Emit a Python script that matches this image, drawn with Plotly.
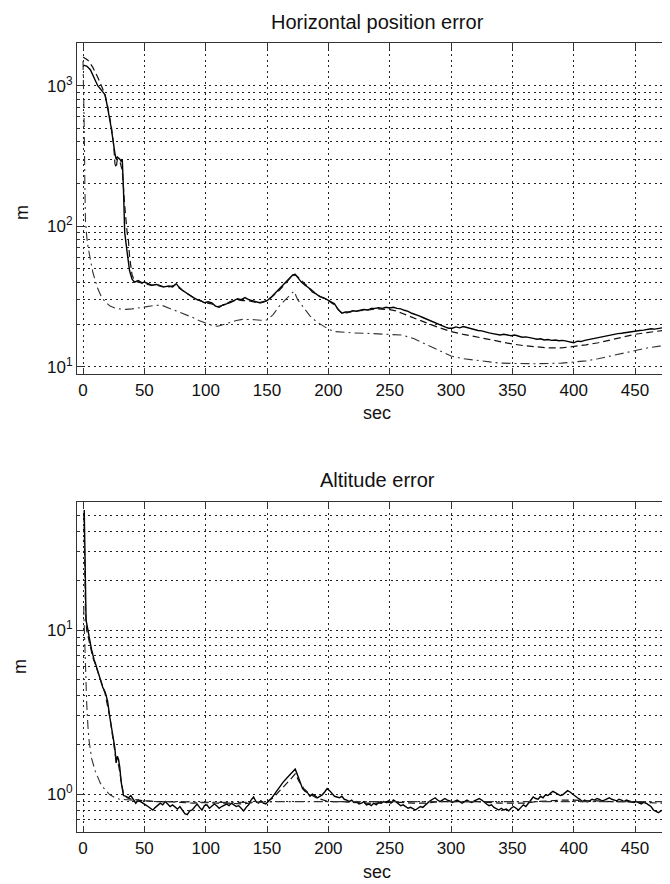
import plotly.graph_objects as go

# ---------------- data ----------------
# Horizontal position error (m) vs time (sec)
h_solid = [(0,1400),(3,1380),(6,1300),(9,1150),(12,1000),(15,930),(17,890),(18,860),(20,700),
    (23,500),(26,330),(27,300),(28,310),(30,300),(31,290),(32,300),(33,180),(34,90),(36,65),
    (37,55),(38,48),(40,42),(42,40),(45,41),(48,39.5),(50,40),(53,39),(56,38),(60,38.5),
    (63,37.5),(66,37),(70,37.5),(73,37),(76,39),(78,37),(81,35),(84,33.5),(87,32),(90,31),
    (93,30),(96,29.5),(99,28.5),(102,29),(105,28.5),(108,27),(111,26.5),(114,27.5),(117,28),
    (120,29),(123,29.5),(126,30.5),(129,30),(132,31),(135,30),(138,29.5),(141,29),(144,28.5),
    (147,29),(150,29.5),(153,31),(156,33),(159,35),(162,37.5),(165,40),(168,42.5),(171,45),
    (173,45.5),(175,43),(178,40),(181,38),(184,36.5),(187,34),(190,33),(193,31.5),(196,31),
    (199,30),(202,29),(205,28),(208,25.5),(211,24),(214,24.5),(217,24.5),(220,25),(223,24.8),
    (226,25.2),(229,25.5),(232,25.3),(235,26),(238,26),(241,26.3),(244,26),(247,26.5),
    (250,26.2),(253,26.5),(256,26),(259,25.8),(262,25.2),(265,24.8),(268,24),(271,23.6),
    (274,23),(277,22.4),(280,21.8),(283,21.2),(286,20.6),(289,20),(292,19.6),(295,19.2),
    (298,18.8),(301,18.8),(304,19.2),(307,18.9),(310,19.3),(313,19),(316,18.6),(319,18.4),
    (322,18.1),(325,18),(328,17.6),(331,17.4),(334,17.2),(337,17),(340,16.8),(343,17),
    (346,16.7),(349,16.6),(352,16.8),(355,16.4),(358,16.2),(361,16.3),(364,16),(367,15.9),
    (370,15.7),(373,15.8),(376,15.5),(379,15.6),(382,15.4),(385,15.5),(388,15.3),(391,15.4),
    (394,15.2),(397,15),(400,14.8),(403,15.2),(406,15.1),(409,15.4),(412,15.6),(415,15.8),
    (418,16.1),(421,16.3),(424,16.5),(427,16.6),(430,16.8),(433,17),(436,17.2),(439,17.3),
    (442,17.5),(445,17.6),(448,17.7),(451,17.9),(454,18.1),(457,18.2),(460,18.4),(463,18.6),
    (466,18.5),(469,18.8),(472,18.9),(475,19.1),(478,19),(481,19.1)]

h_dashed = [(0,1600),(4,1520),(8,1350),(12,1150),(16,950),(18,850),(20,720),(23,520),(25,380),
    (26,280),(27,260),(28,300),(30,290),(32,250),(34,140),(35,110),(36,90),(37,80),(38,60),
    (40,45),(42,41),(45,40),(50,39),(55,38),(60,38),(65,37),(70,37),(75,38),(80,35.5),(85,33),
    (90,31),(95,29.5),(100,28.5),(105,28),(110,26.8),(115,27.5),(120,28.5),(125,30),(130,29.5),
    (135,29.5),(140,28.8),(145,28.5),(150,29.5),(155,32),(160,35),(165,39),(170,44),(173,45),
    (176,43),(180,39.5),(185,36),(190,33),(195,31),(200,29.5),(205,27.5),(210,24.5),(215,24.2),
    (220,24.8),(230,25.2),(240,25.8),(250,25.5),(255,25),(260,24),(265,23),(270,22.2),
    (280,20.5),(290,19),(300,17.8),(310,17),(320,16.3),(330,15.6),(340,15),(350,14.5),
    (360,14.1),(370,13.8),(380,13.6),(390,13.6),(400,13.9),(410,14.3),(420,14.8),(430,15.5),
    (440,16.3),(450,17),(460,17.5),(470,18),(481,18.5)]

h_dashdot = [(0,1500),(0.5,1000),(1,500),(1.5,200),(2,110),(3,85),(4,72),(6,58),(8,47),(10,41),
    (12,36),(15,31.5),(18,29),(22,27),(26,26.2),(30,25.8),(35,25.6),(40,25.8),(45,26.2),
    (50,26.7),(55,27.3),(60,27.4),(65,27.2),(70,26.2),(75,25.2),(80,24.2),(85,23.4),(90,22.3),
    (95,21.2),(100,20.4),(105,19.7),(110,19.4),(115,20),(120,20.8),(125,21.3),(130,21.7),
    (135,21.7),(140,21.6),(145,21.4),(150,21.5),(155,23.5),(160,27),(165,30),(170,33.5),
    (172,34.5),(175,30),(180,26),(185,23),(190,21),(195,19.8),(200,18.5),(205,17.8),(210,17.6),
    (220,17.4),(230,17.3),(240,17.2),(250,17.1),(260,16.8),(270,15.8),(280,14.4),(290,13),
    (300,11.9),(310,11.4),(320,11.1),(330,10.8),(340,10.6),(350,10.55),(360,10.5),(370,10.5),
    (380,10.55),(390,10.6),(400,10.8),(410,11),(420,11.4),(430,11.9),(440,12.5),(450,13.1),
    (460,13.6),(470,14),(481,14.4)]

# Altitude error (m) vs time (sec)
a_solid = [(1,54),(1.5,30),(2,14),(2.5,11.5),(3.5,10.5),(5,8.8),(6,8.3),(7,7.6),(8,6.9),
    (9,6.6),(10,6.3),(12,5.6),(14,5.1),(16,4.5),(18,4.2),(20,3.7),(22,2.9),(24,2.35),(26,1.9),
    (27,1.55),(28,1.7),(29,1.62),(30,1.45),(31,1.2),(32,1.05),(33,0.98),(35,0.97),(37,0.95),
    (39,0.98),(41,0.93),(43,0.88),(45,0.92),(47,0.9),(49,0.89),(51,0.86),(53,0.84),(55,0.82),
    (57,0.8),(59,0.83),(61,0.86),(63,0.88),(65,0.86),(67,0.9),(69,0.87),(71,0.84),(73,0.86),
    (75,0.83),(77,0.81),(79,0.84),(81,0.8),(83,0.76),(85,0.75),(87,0.79),(89,0.8),(91,0.84),
    (93,0.87),(95,0.83),(97,0.8),(99,0.85),(101,0.86),(103,0.82),(105,0.84),(107,0.87),
    (109,0.85),(111,0.82),(113,0.84),(115,0.86),(117,0.87),(119,0.85),(121,0.88),(123,0.86),
    (125,0.84),(127,0.85),(129,0.82),(131,0.79),(133,0.83),(135,0.86),(137,0.92),(139,0.96),
    (141,0.9),(143,0.88),(145,0.91),(147,0.88),(149,0.87),(151,0.9),(154,0.95),(157,1.02),
    (160,1.1),(163,1.18),(166,1.25),(169,1.32),(171,1.37),(173,1.42),(175,1.3),(177,1.2),
    (179,1.08),(181,1.04),(183,1.02),(185,0.97),(187,1.0),(189,0.98),(191,0.95),(193,0.97),
    (195,0.99),(197,1.03),(199,1.08),(201,1.05),(203,1.0),(205,0.97),(207,0.96),(209,0.95),
    (211,0.97),(213,0.93),(215,0.92),(217,0.9),(219,0.92),(221,0.89),(223,0.9),(225,0.87),
    (227,0.88),(229,0.9),(231,0.86),(233,0.87),(235,0.85),(237,0.88),(239,0.86),(241,0.89),
    (243,0.88),(245,0.9),(247,0.89),(249,0.91),(251,0.88),(253,0.92),(255,0.9),(257,0.88),
    (259,0.85),(261,0.86),(263,0.84),(265,0.82),(267,0.83),(269,0.81),(271,0.8),(273,0.82),
    (275,0.84),(277,0.83),(279,0.86),(281,0.88),(283,0.91),(285,0.93),(287,0.95),(289,0.92),
    (291,0.9),(293,0.92),(295,0.94),(297,0.92),(299,0.91),(301,0.89),(303,0.9),(305,0.92),
    (307,0.9),(309,0.88),(311,0.9),(313,0.92),(315,0.9),(317,0.89),(319,0.91),(321,0.93),
    (323,0.94),(325,0.92),(327,0.89),(329,0.87),(331,0.85),(333,0.86),(335,0.83),(337,0.81),
    (339,0.8),(341,0.82),(343,0.8),(345,0.81),(347,0.79),(349,0.82),(351,0.84),(353,0.82),
    (355,0.8),(357,0.83),(359,0.86),(361,0.84),(363,0.88),(365,0.92),(367,0.96),(369,0.94),
    (371,0.93),(373,0.97),(375,0.95),(377,0.99),(379,0.98),(381,1.01),(383,1.04),(385,1.02),
    (387,1.0),(389,0.98),(391,0.99),(393,1.02),(395,1.05),(397,1.03),(399,1.0),(401,0.97),
    (403,0.95),(405,0.93),(407,0.9),(409,0.92),(411,0.9),(413,0.91),(415,0.93),(417,0.92),
    (419,0.94),(421,0.93),(423,0.91),(425,0.92),(427,0.94),(429,0.95),(431,0.93),(433,0.92),
    (435,0.91),(437,0.93),(439,0.92),(441,0.9),(443,0.92),(445,0.91),(447,0.9),(449,0.89),
    (451,0.9),(453,0.88),(455,0.87),(457,0.89),(459,0.88),(461,0.86),(463,0.84),(465,0.8),
    (467,0.78),(469,0.77),(471,0.79),(473,0.8),(475,0.86),(477,0.92),(479,0.95),(481,0.96)]

a_dashed = [(0.8,50),(1.3,25),(2,13),(3,10),(5,8.5),(8,6.8),(10,6.2),(14,5),(18,4.1),(22,2.9),
    (25,2.1),(27,1.6),(29,1.5),(31,1.2),(33,1.0),(36,0.95),(40,0.93),(45,0.92),(50,0.91),
    (60,0.9),(70,0.9),(80,0.89),(90,0.88),(100,0.89),(110,0.88),(120,0.88),(130,0.87),
    (140,0.89),(150,0.9),(155,0.95),(160,1.04),(165,1.13),(170,1.25),(173,1.33),(176,1.2),
    (180,1.08),(185,1.0),(190,0.95),(195,0.92),(200,0.9),(210,0.9),(220,0.89),(230,0.88),
    (240,0.88),(250,0.89),(260,0.89),(270,0.88),(280,0.88),(290,0.9),(300,0.9),(310,0.9),
    (320,0.9),(330,0.89),(340,0.88),(350,0.88),(360,0.88),(370,0.9),(380,0.91),(390,0.92),
    (400,0.92),(410,0.91),(420,0.91),(430,0.9),(440,0.9),(450,0.89),(460,0.89),(470,0.88),
    (481,0.88)]

a_dashdot = [(0.5,14),(1,10),(2,5.5),(3,3.6),(4,2.6),(5,2.1),(7,1.65),(10,1.38),(14,1.17),
    (18,1.06),(22,0.99),(26,0.95),(30,0.93),(40,0.92),(50,0.91),(60,0.9),(80,0.9),(100,0.89),
    (120,0.89),(140,0.89),(160,0.9),(180,0.9),(200,0.9),(220,0.9),(240,0.9),(260,0.9),
    (280,0.9),(300,0.9),(320,0.9),(340,0.9),(360,0.9),(380,0.9),(400,0.9),(420,0.9),
    (440,0.9),(460,0.9),(481,0.9)]

x_ticks = [0, 50, 100, 150, 200, 250, 300, 350, 400, 450]
h_major = [10, 100, 1000]
h_major_text = ["10<sup>1</sup>", "10<sup>2</sup>", "10<sup>3</sup>"]
h_minor = [20, 30, 40, 50, 60, 70, 80, 90, 200, 300, 400, 500, 600, 700, 800, 900]
a_major = [1, 10]
a_major_text = ["10<sup>0</sup>", "10<sup>1</sup>"]
a_minor = [0.7, 0.8, 0.9, 2, 3, 4, 5, 6, 7, 8, 9, 20, 30, 40, 50]

titles = ["Horizontal position error", "Altitude error"]
x_label = "sec"
y_label = "m"

# ---------------- figure ----------------
# The page body adds an 8px offset; figure is sized to fit the 670x884 window.
OFF = 8
W, H = 670 - OFF, 884 - OFF
FONT = "Liberation Sans, Arial, Helvetica, sans-serif"
INK = "#111111"
GRID = "#222222"
GRID_DASH = "2px,3.5px"


def px_x(p):
    return (p - OFF) / W


def px_y(p):
    return 1 - (p - OFF) / H


fig = go.Figure()

styles = [
    dict(color="#000000", width=1.4, dash="solid"),
    dict(color="#111111", width=1.2, dash="7px,4px"),
    dict(color="#333333", width=1.1, dash="9px,4px,2px,4px"),
]

for series, st in zip([h_solid, h_dashed, h_dashdot], styles):
    fig.add_trace(go.Scatter(x=[p[0] for p in series], y=[p[1] for p in series],
                             mode="lines", line=st, xaxis="x", yaxis="y",
                             showlegend=False, hoverinfo="skip"))
for series, st in zip([a_solid, a_dashed, a_dashdot], styles):
    fig.add_trace(go.Scatter(x=[p[0] for p in series], y=[p[1] for p in series],
                             mode="lines", line=st, xaxis="x2", yaxis="y2",
                             showlegend=False, hoverinfo="skip"))

x_dom = [px_x(77), 1.0]
top_dom = [px_y(374), px_y(43)]
bot_dom = [px_y(832), px_y(501.5)]
x_rng = [-4.9, 478.5]

common_x = dict(
    range=x_rng, tickmode="array", tickvals=x_ticks, ticktext=[str(v) for v in x_ticks],
    showgrid=True, gridcolor=GRID, griddash=GRID_DASH, gridwidth=1,
    showline=True, linecolor="#333333", linewidth=1.2, mirror="ticks",
    ticks="inside", ticklen=6, tickcolor="#333333",
    tickfont=dict(family=FONT, size=17, color=INK), zeroline=False,
    automargin=False, fixedrange=True,
)
common_y = dict(
    type="log", showgrid=True, gridcolor=GRID, griddash=GRID_DASH, gridwidth=1,
    showline=True, linecolor="#333333", linewidth=1.2, mirror=False,
    ticks="inside", ticklen=6, tickcolor="#333333",
    tickfont=dict(family=FONT, size=17, color=INK), zeroline=False,
    automargin=False, fixedrange=True, tickmode="array",
)

fig.update_layout(
    width=W, height=H, paper_bgcolor="white", plot_bgcolor="white",
    margin=dict(l=0, r=0, t=0, b=0),
    xaxis=dict(domain=x_dom, anchor="y", **common_x),
    xaxis2=dict(domain=x_dom, anchor="y2", **common_x),
    yaxis=dict(domain=top_dom, anchor="x", range=[0.948, 3.304],
               tickvals=h_major, ticktext=h_major_text,
               minor=dict(tickmode="array", tickvals=h_minor, showgrid=True,
                          gridcolor=GRID, griddash=GRID_DASH, gridwidth=1,
                          ticks="inside", ticklen=3, tickcolor="#333333"),
               **common_y),
    yaxis2=dict(domain=bot_dom, anchor="x2", range=[-0.231, 1.784],
                tickvals=a_major, ticktext=a_major_text,
                minor=dict(tickmode="array", tickvals=a_minor, showgrid=True,
                           gridcolor=GRID, griddash=GRID_DASH, gridwidth=1,
                           ticks="inside", ticklen=3, tickcolor="#333333"),
                **common_y),
)

ann = []
for t, yc in zip(titles, [22, 480]):
    ann.append(dict(text=t, x=px_x(377), y=px_y(yc), xref="paper", yref="paper",
                    showarrow=False, xanchor="center", yanchor="middle",
                    font=dict(family=FONT, size=20, color=INK)))
for yc in [413, 872]:
    ann.append(dict(text=x_label, x=px_x(377), y=px_y(yc), xref="paper", yref="paper",
                    showarrow=False, xanchor="center", yanchor="middle",
                    font=dict(family=FONT, size=18, color=INK)))
for xc, yc in [(22, 213), (20, 667)]:
    ann.append(dict(text=y_label, x=px_x(xc), y=px_y(yc), xref="paper", yref="paper",
                    showarrow=False, xanchor="center", yanchor="middle", textangle=-90,
                    font=dict(family=FONT, size=18, color=INK)))
fig.update_layout(annotations=ann)

fig.write_html("out.html")
